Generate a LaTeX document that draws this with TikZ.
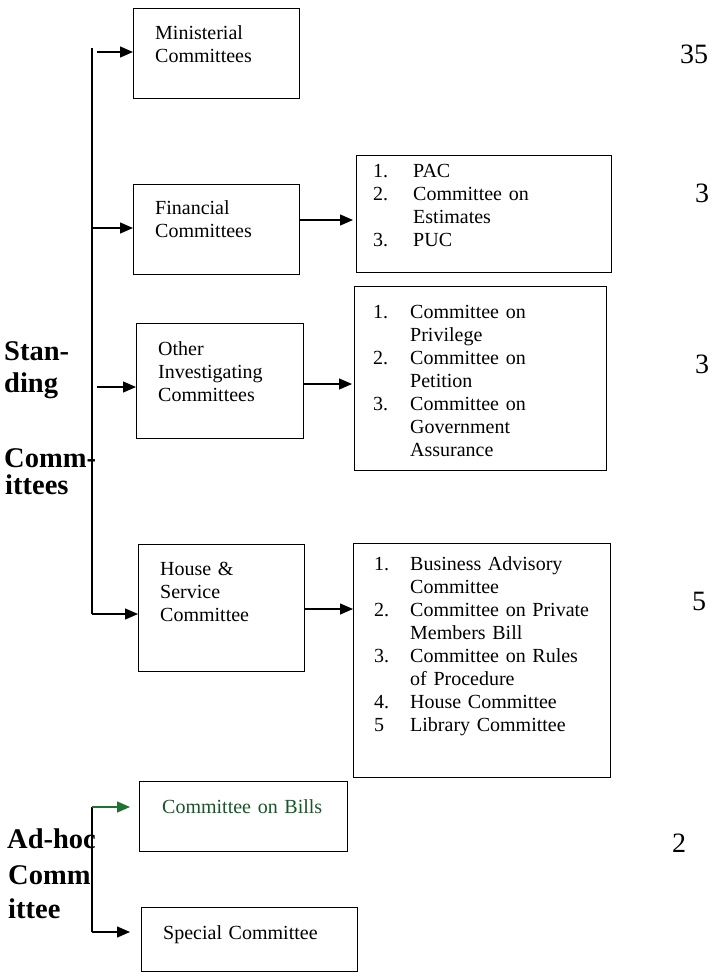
\documentclass[tikz,border=0pt]{standalone}
\usepackage{fontspec}
\setmainfont{Liberation Serif}
\usetikzlibrary{arrows.meta,calc}
\definecolor{adgreen}{RGB}{30,115,50}
\definecolor{billgreen}{RGB}{25,85,40}
\newcommand{\nm}[2]{\makebox[#1][l]{#2}}
\begin{document}
\begin{tikzpicture}[x=1pt,y=-1pt,
  boxnode/.style={draw, line width=1.4pt, inner sep=0pt, anchor=north west},
  txt/.style={inner sep=0pt, anchor=base west, text width=#1, align=left,
    font=\fontsize{20}{23}\selectfont},
  txt/.default=240pt,
  big/.style={inner sep=0pt, anchor=base west, font=\fontsize{28.5}{32}\selectfont\bfseries},
  num/.style={inner sep=0pt, anchor=base west, font=\fontsize{28}{30}\selectfont},
  conn/.style={line width=1.3pt},
  arr/.style={line width=1.3pt, -{Triangle[length=13pt,width=11pt]}}]
\useasboundingbox (0,0) rectangle (712,977);
\fill[white] (0,0) rectangle (712,977);

% boxes
\node[boxnode, minimum width=166pt, minimum height=90pt] (min) at (133,8) {};
\node[boxnode, minimum width=166pt, minimum height=90pt] (fin) at (133,184) {};
\node[boxnode, minimum width=167pt, minimum height=115pt] (oth) at (136,323) {};
\node[boxnode, minimum width=166pt, minimum height=127pt] (hou) at (138,544) {};
\node[boxnode, minimum width=255pt, minimum height=117pt] (pac) at (356,155) {};
\node[boxnode, minimum width=252pt, minimum height=184pt] (prv) at (354,286) {};
\node[boxnode, minimum width=257pt, minimum height=234pt] (bus) at (353,543) {};
\node[boxnode, minimum width=208pt, minimum height=70pt] (bil) at (139,781) {};
\node[boxnode, minimum width=216pt, minimum height=64pt] (spe) at (141,907) {};

% box texts
\node[txt=140pt] (tmin) at (155,39) {Ministerial\\Committees};
\node[txt=140pt] (tfin) at (155,214) {Financial\\Committees};
\node[txt=140pt] (toth) at (158,355) {Other\\Investigating\\Committees};
\node[txt=140pt] (thou) at (160,575) {House \&\\Service\\Committee};
\node[txt=180pt, text=billgreen] (tbil) at (162,813) {Committee on Bills};
\node[txt=190pt] (tspe) at (163,939) {Special Committee};

\node[txt] (tpac) at (373,177) {\nm{40pt}{1.}PAC\\
\nm{40pt}{2.}Committee on\\\hspace*{40pt}Estimates\\
\nm{40pt}{3.}PUC};
\node[txt] (tprv) at (373,318) {\nm{37pt}{1.}Committee on\\\hspace*{37pt}Privilege\\
\nm{37pt}{2.}Committee on\\\hspace*{37pt}Petition\\
\nm{37pt}{3.}Committee on\\\hspace*{37pt}Government\\\hspace*{37pt}Assurance};
\node[txt] (tbus) at (374,570) {\nm{36pt}{1.}Business Advisory\\\hspace*{36pt}Committee\\
\nm{36pt}{2.}Committee on Private\\\hspace*{36pt}Members Bill\\
\nm{36pt}{3.}Committee on Rules\\\hspace*{36pt}of Procedure\\
\nm{36pt}{4.}House Committee\\
\nm{36pt}{5}Library Committee};

% side labels
\node[big] (s1) at (4,360) {Stan-};
\node[big] (s2) at (4,392) {ding};
\node[big] (s3) at (4,467) {Comm-};
\node[big] (s4) at (5,494) {ittees};
\node[big] (a1) at (7,848) {Ad-hoc};
\node[big] (a2) at (8,884) {Comm};
\node[big] (a3) at (8,918) {ittee};

% numbers
\node[num] (n1) at (680,63) {35};
\node[num] (n2) at (695,202) {3};
\node[num] (n3) at (695,373) {3};
\node[num] (n4) at (692,610) {5};
\node[num] (n5) at (672,852) {2};

% standing trunk
\coordinate (t0) at (92,48);
\coordinate (t4) at (92,614);
\coordinate (c1) at (97,52);
\coordinate (c2) at (92,228);
\coordinate (c3) at (97,387);
\draw[conn] (t0) -- (t4);
\draw[arr] (c1) -- (c1 -| min.west);
\draw[arr] (c2) -- (c2 -| fin.west);
\draw[arr] (c3) -- (c3 -| oth.west);
\draw[arr] (t4) -- (t4 -| hou.west);

% second-level connectors
\coordinate (r2) at (0,220);
\coordinate (r3) at (0,384);
\coordinate (r4) at (0,609);
\draw[arr, shorten >=3pt] (fin.east |- r2) -- (pac.west |- r2);
\draw[arr, shorten >=2pt] (oth.east |- r3) -- (prv.west |- r3);
\draw[arr] (hou.east |- r4) -- (bus.west |- r4);

% ad-hoc trunk
\coordinate (d0) at (92,807);
\coordinate (d1) at (92,932);
\draw[conn] (d0) -- (d1);
\draw[arr, adgreen, shorten >=9pt] (d0) -- (d0 -| bil.west);
\draw[arr, shorten >=11pt] (d1) -- (d1 -| spe.west);
\end{tikzpicture}
\end{document}
